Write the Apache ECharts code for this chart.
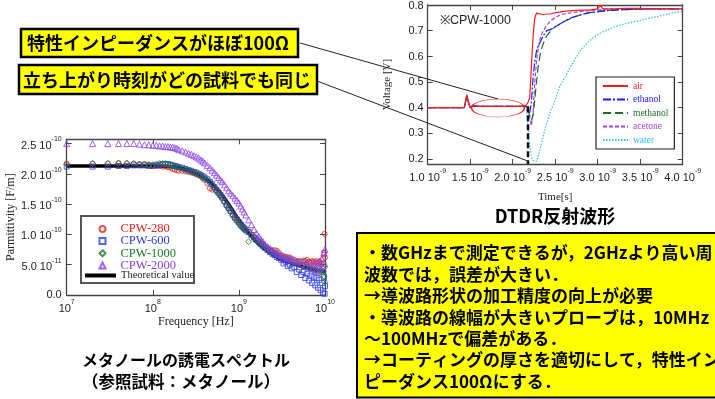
<!DOCTYPE html>
<html>
<head>
<meta charset="utf-8">
<script src="https://cdn.jsdelivr.net/npm/echarts@6/dist/echarts.min.js"></script>
<style>
  html, body { margin: 0; padding: 0; background: #fff; }
  #chart { width: 715px; height: 399px; }
</style>
</head>
<body>
<div id="chart"></div>
<script>
// ---- permittivity spectrum (values in 1e-10 F/m) ----
const freqMHz = [10, 20, 30, 40, 50, 60, 70, 80, 90, 100,
  110, 120, 130, 140, 150, 160, 170, 180, 190, 200,
  220, 240, 260, 280, 300, 320, 340, 360, 380, 400,
  430, 460, 490, 520, 550, 580, 610, 640, 680, 720, 760, 800,
  850, 900, 950, 1000, 1050, 1100, 1150, 1200,
  1300, 1400, 1500, 1600, 1700, 1800, 1900, 2000,
  2150, 2300, 2450, 2600, 2750, 2900,
  3100, 3300, 3500, 3700, 3900, 4100,
  4400, 4700, 5000, 5300, 5600, 5900, 6200, 6500, 6800, 7100, 7400, 7700, 8000, 8300, 8600, 8900,
  9200, 9500, 9700, 9900, 10000]
const cpw280 = [2.17, 2.17, 2.17, 2.18, 2.17, 2.17, 2.16, 2.16, 2.15, 2.14,
  2.13, 2.13, 2.12, 2.12, 2.11, 2.10, 2.08, 2.07, 2.06, 2.05,
  2.05, 2.04, 2.03, 2.02, 2.01, 1.99, 1.98, 1.96, 1.93, 1.90,
  1.84, 1.76, 1.74, 1.76, 1.72, 1.68, 1.64, 1.60, 1.54, 1.48, 1.43, 1.38,
  1.32, 1.27, 1.23, 1.19, 1.15, 1.12, 1.10, 1.08,
  1.04, 1.00, 0.96, 0.92, 0.89, 0.86, 0.83, 0.80,
  0.77, 0.75, 0.73, 0.74, 0.73, 0.70,
  0.66, 0.64, 0.63, 0.62, 0.62, 0.60,
  0.58, 0.56, 0.56, 0.55, 0.57, 0.56, 0.58, 0.55, 0.54, 0.56, 0.55, 0.54, 0.56, 0.53, 0.55, 0.50,
  0.52, 0.60, 0.70, 1.01, 0.62]
const cpw600 = [2.12, 2.12, 2.12, 2.13, 2.13, 2.14, 2.14, 2.14, 2.13, 2.13,
  2.14, 2.15, 2.16, 2.16, 2.16, 2.15, 2.14, 2.13, 2.12, 2.11,
  2.10, 2.08, 2.06, 2.05, 2.03, 2.02, 2.00, 1.98, 1.96, 1.94,
  1.91, 1.87, 1.83, 1.78, 1.73, 1.69, 1.65, 1.61, 1.55, 1.49, 1.44, 1.39,
  1.33, 1.28, 1.24, 1.20, 1.16, 1.13, 1.10, 1.08,
  1.04, 0.99, 0.95, 0.91, 0.88, 0.84, 0.81, 0.78,
  0.74, 0.71, 0.68, 0.66, 0.63, 0.61,
  0.58, 0.52, 0.55, 0.48, 0.50, 0.44,
  0.46, 0.38, 0.42, 0.33, 0.38, 0.28, 0.35, 0.24, 0.32, 0.20, 0.30, 0.16, 0.28, 0.12, 0.25, 0.08,
  0.20, 0.04, 0.30, 0.02, 0.15]
const cpw1000 = [2.16, 2.17, 2.17, 2.17, 2.18, 2.17, 2.16, 2.16, 2.15, 2.15,
  2.16, 2.17, 2.17, 2.17, 2.16, 2.15, 2.14, 2.13, 2.12, 2.11,
  2.09, 2.07, 2.06, 2.04, 2.02, 2.01, 1.99, 1.97, 1.95, 1.93,
  1.90, 1.86, 1.81, 1.76, 1.71, 1.67, 1.63, 1.59, 1.53, 1.47, 1.42, 1.37,
  1.31, 1.26, 1.22, 1.18, 1.14, 1.11, 1.08, 1.05,
  0.88, 0.99, 0.95, 0.91, 0.88, 0.85, 0.82, 0.79,
  0.76, 0.73, 0.71, 0.69, 0.67, 0.65,
  0.63, 0.61, 0.60, 0.58, 0.57, 0.55,
  0.54, 0.52, 0.51, 0.50, 0.49, 0.47, 0.46, 0.45, 0.43, 0.45, 0.41, 0.44, 0.39, 0.43, 0.37, 0.41,
  0.34, 0.39, 0.31, 0.46, 0.22]
const cpw2000 = [2.50, 2.50, 2.50, 2.50, 2.50, 2.50, 2.49, 2.48, 2.48, 2.47,
  2.47, 2.46, 2.46, 2.45, 2.45, 2.44, 2.44, 2.43, 2.42, 2.40,
  2.38, 2.36, 2.34, 2.32, 2.30, 2.28, 2.26, 2.23, 2.21, 2.18,
  2.14, 2.10, 2.06, 2.02, 1.98, 1.94, 1.90, 1.87, 1.82, 1.77, 1.72, 1.68,
  1.64, 1.60, 1.56, 1.52, 1.47, 1.42, 1.37, 1.32,
  1.24, 1.16, 1.08, 1.02, 0.97, 0.92, 0.88, 0.84,
  0.80, 0.77, 0.74, 0.71, 0.69, 0.67,
  0.65, 0.63, 0.62, 0.60, 0.59, 0.58,
  0.57, 0.55, 0.56, 0.51, 0.55, 0.48, 0.54, 0.46, 0.53, 0.44, 0.51, 0.42, 0.53, 0.40, 0.56, 0.43,
  0.60, 0.45, 0.70, 0.52, 0.75]
const theoryFreqMHz = [10, 100, 150, 200, 300, 400, 500, 600, 800, 1000, 1500, 2000, 3000, 4000, 6000, 8000, 10000]
const theoryVal = [2.13, 2.13, 2.12, 2.10, 2.03, 1.93, 1.82, 1.70, 1.45, 1.24, 0.92, 0.76, 0.60, 0.53, 0.45, 0.41, 0.39]

const permXTicks = [1e7, 1e8, 1e9, 1e10]
const permXTickLabels = ['10^7', '10^8', '10^9', '10^10']
const permYTicks = [0, 0.5, 1.0, 1.5, 2.0, 2.5]
const permYTickLabels = ['0.0', '5.0 10^-11', '1.0 10^-10', '1.5 10^-10', '2.0 10^-10', '2.5 10^-10']

// ---- DTDR waveform (time in ns, voltage in V) ----
const tdrTime = [1.0, 1.1, 1.2, 1.3, 1.4, 1.43, 1.46, 1.48, 1.5, 1.53,
  1.6, 1.7, 1.8, 1.9, 2.0, 2.1, 2.16, 2.18, 2.2, 2.22,
  2.24, 2.26, 2.28, 2.3, 2.33, 2.36, 2.4, 2.45, 2.5, 2.55,
  2.6, 2.7, 2.8, 2.9, 3.0, 3.03, 3.06, 3.1, 3.2, 3.3,
  3.4, 3.5, 3.6, 3.7, 3.8, 3.9, 4.0]
const air = [0.40, 0.40, 0.40, 0.40, 0.40, 0.40, 0.45, 0.42, 0.40, 0.41,
  0.405, 0.405, 0.405, 0.405, 0.405, 0.405, 0.41, 0.42, 0.44, 0.56,
  0.68, 0.75, 0.768, 0.762, 0.765, 0.762, 0.765, 0.765, 0.77, 0.772,
  0.775, 0.778, 0.78, 0.78, 0.785, 0.80, 0.785, 0.785, 0.785, 0.787,
  0.787, 0.787, 0.785, 0.785, 0.785, 0.785, 0.785]
const ethanol = [0.40, 0.40, 0.40, 0.40, 0.40, 0.40, 0.45, 0.42, 0.40, 0.405,
  0.405, 0.405, 0.405, 0.405, 0.405, 0.405, 0.405, 0.40, 0.38, 0.42,
  0.52, 0.58, 0.62, 0.64, 0.66, 0.68, 0.70, 0.705, 0.715, 0.725,
  0.735, 0.752, 0.762, 0.77, 0.773, 0.775, 0.776, 0.778, 0.78, 0.782,
  0.783, 0.784, 0.785, 0.785, 0.785, 0.785, 0.785]
const methanol = [0.40, 0.40, 0.40, 0.40, 0.40, 0.40, 0.445, 0.42, 0.40, 0.405,
  0.405, 0.405, 0.405, 0.405, 0.405, 0.405, 0.405, 0.40, 0.37, 0.35,
  0.37, 0.43, 0.50, 0.56, 0.62, 0.65, 0.68, 0.70, 0.715, 0.725,
  0.735, 0.75, 0.762, 0.77, 0.775, 0.776, 0.777, 0.778, 0.78, 0.782,
  0.783, 0.784, 0.785, 0.785, 0.785, 0.785, 0.785]
const acetone = [0.40, 0.40, 0.40, 0.40, 0.40, 0.40, 0.445, 0.42, 0.40, 0.405,
  0.405, 0.405, 0.405, 0.405, 0.405, 0.405, 0.405, 0.40, 0.36, 0.33,
  0.38, 0.50, 0.58, 0.63, 0.68, 0.70, 0.72, 0.74, 0.75, 0.76,
  0.765, 0.77, 0.775, 0.778, 0.78, 0.781, 0.782, 0.783, 0.784, 0.785,
  0.785, 0.785, 0.785, 0.785, 0.785, 0.785, 0.785]
const water = [0.40, 0.40, 0.40, 0.40, 0.40, 0.40, 0.445, 0.42, 0.40, 0.405,
  0.405, 0.405, 0.405, 0.405, 0.405, 0.405, 0.405, 0.40, 0.25, 0.21,
  0.195, 0.19, 0.19, 0.21, 0.25, 0.29, 0.34, 0.39, 0.43, 0.48,
  0.51, 0.57, 0.625, 0.66, 0.685, 0.69, 0.695, 0.70, 0.715, 0.725,
  0.733, 0.74, 0.748, 0.755, 0.763, 0.77, 0.775]
const riseTime = [2.18, 2.18]
const riseVolt = [0.405, 0.18]

const tdrXTicks = [1.0, 1.5, 2.0, 2.5, 3.0, 3.5, 4.0]
const tdrXTickLabels = ['1.0 10^-9', '1.5 10^-9', '2.0 10^-9', '2.5 10^-9', '3.0 10^-9', '3.5 10^-9', '4.0 10^-9']
const tdrYTicks = [0.2, 0.3, 0.4, 0.5, 0.6, 0.7, 0.8]
const tdrYTickLabels = ['0.2', '0.3', '0.4', '0.5', '0.6', '0.7', '0.8']

const noteLines = [
  '・数GHzまで測定できるが，2GHzより高い周',
  '波数では，誤差が大きい．',
  '→導波路形状の加工精度の向上が必要',
  '・導波路の線幅が大きいプローブは，10MHz',
  '～100MHzで偏差がある．',
  '→コーティングの厚さを適切にして，特性イン',
  'ピーダンス100Ωにする．',
]

const SANS = '"Liberation Sans", Arial, sans-serif'
const SERIF = '"Liberation Serif", "Times New Roman", serif'
const JP = '"Noto Sans CJK JP", sans-serif'
const FRAME = '#444'

// "2.5 10^-10" -> rich text with superscript exponent
function richLabel(s) {
  const p = s.split('^')
  return p.length > 1 ? `{a|${p[0]}}{s|${p[1]}}` : `{b|${p[0]}}`
}
function labelFor(ticks, labels, v, log) {
  const i = ticks.findIndex(t => log ? Math.abs(Math.log10(t) - Math.log10(v)) < 1e-6 : Math.abs(t - v) < 1e-6)
  return i >= 0 ? richLabel(labels[i]) : ''
}
const RICH = {
  a: { fontFamily: SANS, fontSize: 11, color: '#222', lineHeight: 15, verticalAlign: 'bottom' },
  s: { fontFamily: SANS, fontSize: 7, color: '#222', lineHeight: 8, verticalAlign: 'top' },
  b: { fontFamily: SANS, fontSize: 11, color: '#222', lineHeight: 12 },
}

function frameAxis(extra) {
  return Object.assign({
    axisLine: { show: true, onZero: false, lineStyle: { color: FRAME, width: 1.3 } },
    axisTick: { show: true, inside: true, length: 5, lineStyle: { color: FRAME, width: 1 } },
    splitLine: { show: false },
  }, extra)
}

const chart = echarts.init(document.getElementById('chart'))

const permPts = arr => freqMHz.map((f, i) => [f * 1e6, arr[i]])
const tdrPts = arr => tdrTime.map((t, i) => [t, arr[i]])

function scatter(name, arr, symbol, size, color) {
  return {
    name, type: 'scatter', xAxisIndex: 0, yAxisIndex: 0,
    data: permPts(arr), symbol, symbolSize: size,
    itemStyle: { color: 'rgba(255,255,255,0)', borderColor: color, borderWidth: 1 },
  }
}
function tdrLine(name, arr, color, type) {
  return {
    name, type: 'line', xAxisIndex: 2, yAxisIndex: 2,
    data: tdrPts(arr), symbol: 'none', showSymbol: false, color,
    lineStyle: { color, width: 1.2, type },
  }
}

const option = {
  animation: false,
  backgroundColor: '#fff',
  grid: [
    { left: 66.7, top: 139.3, width: 258.3, height: 155.7 },
    { left: 427.7, top: 5, width: 255, height: 159 },
    // label-only grid for the voltage tick labels (0.2 .. 0.8 span of the plot above)
    { left: 427.7, top: 5, width: 255, height: 154 },
  ],
  xAxis: [
    frameAxis({
      type: 'log', logBase: 10, min: 1e7, max: 1e10, gridIndex: 0, position: 'bottom',
      name: 'Frequency [Hz]', nameLocation: 'middle', nameGap: 21,
      nameTextStyle: { fontFamily: SERIF, fontSize: 12, color: '#222' },
      axisLabel: { margin: 4, rich: RICH, formatter: v => labelFor(permXTicks, permXTickLabels, v, true) },
      minorTick: { show: false },
    }),
    frameAxis({
      type: 'log', logBase: 10, min: 1e7, max: 1e10, gridIndex: 0, position: 'top',
      axisLabel: { show: false },
    }),
    frameAxis({
      type: 'value', min: 1, max: 4, interval: 0.5, gridIndex: 1, position: 'bottom',
      name: 'Time[s]', nameLocation: 'middle', nameGap: 28,
      nameTextStyle: { fontFamily: SERIF, fontSize: 11, color: '#222' },
      axisLabel: { margin: 4, rich: RICH, formatter: v => labelFor(tdrXTicks, tdrXTickLabels, v, false) },
    }),
    frameAxis({
      type: 'value', min: 1, max: 4, interval: 0.5, gridIndex: 1, position: 'top',
      axisLabel: { show: false },
    }),
    { type: 'value', min: 1, max: 4, gridIndex: 2, show: false },
  ],
  yAxis: [
    frameAxis({
      type: 'value', min: 0, max: 2.57, gridIndex: 0, position: 'left',
      name: 'Parmittivity [F/m]', nameLocation: 'middle', nameGap: 46,
      nameTextStyle: { fontFamily: SERIF, fontSize: 12, color: '#222' },
      axisTick: { show: true, inside: true, length: 5, customValues: permYTicks, lineStyle: { color: FRAME } },
      axisLabel: { margin: 5, rich: RICH, customValues: permYTicks, formatter: v => labelFor(permYTicks, permYTickLabels, v, false) },
    }),
    frameAxis({
      type: 'value', min: 0, max: 2.57, gridIndex: 0, position: 'right',
      axisTick: { show: true, inside: true, length: 5, customValues: permYTicks, lineStyle: { color: FRAME } },
      axisLabel: { show: false },
    }),
    frameAxis({
      type: 'value', min: 0.18, max: 0.8, gridIndex: 1, position: 'left',
      name: 'Voltage [V]', nameLocation: 'middle', nameGap: 35,
      nameTextStyle: { fontFamily: SERIF, fontSize: 11, color: '#222' },
      axisTick: { show: true, inside: true, length: 5, customValues: tdrYTicks, lineStyle: { color: FRAME } },
      axisLabel: { show: false },
    }),
    frameAxis({
      type: 'value', min: 0.18, max: 0.8, gridIndex: 1, position: 'right',
      axisTick: { show: true, inside: true, length: 5, customValues: tdrYTicks, lineStyle: { color: FRAME } },
      axisLabel: { show: false },
    }),
    {
      type: 'value', min: 0.2, max: 0.8, interval: 0.1, gridIndex: 2, position: 'left',
      axisLine: { show: false }, axisTick: { show: false }, splitLine: { show: false },
      axisLabel: {
        margin: 4, showMinLabel: true, showMaxLabel: true,
        fontFamily: SANS, fontSize: 11, color: '#222',
        formatter: v => { const i = tdrYTicks.findIndex(t => Math.abs(t - v) < 1e-6); return i >= 0 ? tdrYTickLabels[i] : '' },
      },
    },
  ],
  legend: [
    {
      left: 98.5, top: 222.4, padding: 0, orient: 'vertical', itemWidth: 6, itemHeight: 6, itemGap: -0.8,
      textStyle: { fontFamily: SERIF, fontSize: 12.5, padding: [0, 0, 0, 10] }, z: 10,
      data: [
        { name: 'CPW-280', textStyle: { color: '#e3241b' } },
        { name: 'CPW-600', textStyle: { color: '#2b3be8' } },
        { name: 'CPW-1000', textStyle: { color: '#1e7a30' } },
        { name: 'CPW-2000', textStyle: { color: '#8a3ee8' } },
      ],
    },
    {
      left: 85, top: 270, padding: 0, orient: 'vertical', itemWidth: 31, itemHeight: 4, icon: 'rect',
      textStyle: { fontFamily: SERIF, fontSize: 10.5, color: '#222' }, z: 10,
      data: ['Theoretical value'],
    },
    {
      left: 596, top: 77, orient: 'vertical', itemWidth: 25, itemHeight: 10, itemGap: 3.5,
      padding: [4, 6, 4, 6], backgroundColor: '#fff', borderColor: '#222', borderWidth: 1.2,
      itemStyle: { opacity: 0 },
      textStyle: { fontFamily: SERIF, fontSize: 9.5 }, z: 10,
      data: [
        { name: 'air', textStyle: { color: '#ff1a1a' } },
        { name: 'ethanol', textStyle: { color: '#1a1aff' } },
        { name: 'methanol', textStyle: { color: '#1e6b2a' } },
        { name: 'acetone', textStyle: { color: '#a040e8' } },
        { name: 'water', textStyle: { color: '#30bff0' } },
      ],
    },
  ],
  series: [
    {
      name: 'Theoretical value', type: 'line', xAxisIndex: 0, yAxisIndex: 0, z: 1,
      data: theoryFreqMHz.map((f, i) => [f * 1e6, theoryVal[i]]),
      smooth: true, symbol: 'none', color: '#000', lineStyle: { color: '#000', width: 3.5 },
    },
    scatter('CPW-280', cpw280, 'circle', 5, '#e3241b'),
    scatter('CPW-600', cpw600, 'rect', 5, '#2b3be8'),
    scatter('CPW-1000', cpw1000, 'diamond', 6, '#1e7a30'),
    scatter('CPW-2000', cpw2000, 'triangle', 6, '#8a3ee8'),
    tdrLine('water', water, '#30bff0', [1.5, 1.5]),
    tdrLine('acetone', acetone, '#a040e8', [4, 2]),
    tdrLine('methanol', methanol, '#1e6b2a', [8, 4]),
    tdrLine('ethanol', ethanol, '#1a1aff', [8, 2, 2, 2]),
    tdrLine('air', air, '#ff1a1a', 'solid'),
    {
      name: 'rise', type: 'line', xAxisIndex: 2, yAxisIndex: 2, z: 5,
      data: riseTime.map((t, i) => [t, riseVolt[i]]), symbol: 'none',
      lineStyle: { color: '#111', width: 2.5, type: [6, 3] },
    },
  ],
  graphic: [
    { type: 'rect', z: 3, shape: { x: 81, y: 216, width: 113, height: 67 }, style: { fill: '#fff', stroke: '#555', lineWidth: 2 } },
    // callout boxes
    { type: 'rect', z: 20, shape: { x: 21, y: 29, width: 277, height: 28 }, style: { fill: '#ffff00', stroke: '#000', lineWidth: 2.5 } },
    { type: 'text', z: 21, x: 158, y: 43.5,
      style: { text: '特性インピーダンスがほぼ100Ω', x: 0, y: 0, font: 'bold 18px ' + JP, fill: '#000', textAlign: 'center', align: 'center', textVerticalAlign: 'middle', verticalAlign: 'middle' } },
    { type: 'rect', z: 20, shape: { x: 19, y: 65, width: 298, height: 29 }, style: { fill: '#ffff00', stroke: '#000', lineWidth: 2.5 } },
    { type: 'text', z: 21, x: 167, y: 80,
      style: { text: '立ち上がり時刻がどの試料でも同じ', x: 0, y: 0, font: 'bold 18px ' + JP, fill: '#000', textAlign: 'center', align: 'center', textVerticalAlign: 'middle', verticalAlign: 'middle' } },
    { type: 'rect', z: 20, shape: { x: 357, y: 233, width: 370, height: 164.5 }, style: { fill: '#ffff00', stroke: '#000', lineWidth: 2 } },
    ...noteLines.map((t, i) => ({
      type: 'text', z: 21, x: 364, y: 253 + i * 21.4,
      style: { text: t, x: 0, y: 0, font: 'bold 17px ' + JP, fill: '#000', textAlign: 'left', align: 'left', textVerticalAlign: 'middle', verticalAlign: 'middle' },
    })),
    // captions
    { type: 'text', z: 21, x: 186, y: 360,
      style: { text: 'メタノールの誘電スペクトル', x: 0, y: 0, font: 'bold 16px ' + JP, fill: '#000', textAlign: 'center', align: 'center', textVerticalAlign: 'middle', verticalAlign: 'middle' } },
    { type: 'text', z: 21, x: 181, y: 382,
      style: { text: '（参照試料：メタノール）', x: 0, y: 0, font: 'bold 16.5px ' + JP, fill: '#000', textAlign: 'center', align: 'center', textVerticalAlign: 'middle', verticalAlign: 'middle' } },
    { type: 'text', z: 21, x: 555, y: 216,
      style: { text: 'DTDR反射波形', x: 0, y: 0, font: 'bold 18px ' + JP, fill: '#000', textAlign: 'center', align: 'center', textVerticalAlign: 'middle', verticalAlign: 'middle' } },
    { type: 'text', z: 21, x: 440, y: 21,
      style: { text: '※CPW-1000', x: 0, y: 0, font: '12.5px ' + SANS, fill: '#222', textAlign: 'left', align: 'left', textVerticalAlign: 'middle', verticalAlign: 'middle' } },
    // highlight ellipse and leader lines
    { type: 'circle', z: 22, x: 498, y: 108, scaleY: 9 / 26.5, shape: { cx: 0, cy: 0, r: 26.5 },
      style: { fill: 'none', stroke: '#e8221a', lineWidth: 1.6, strokeNoScale: true } },
    { type: 'line', z: 22, shape: { x1: 300, y1: 43, x2: 498, y2: 99 }, style: { stroke: '#222', lineWidth: 1 } },
    { type: 'line', z: 22, shape: { x1: 317, y1: 81, x2: 527.7, y2: 161 }, style: { stroke: '#222', lineWidth: 1 } },
  ],
}

chart.setOption(option)
</script>
</body>
</html>
